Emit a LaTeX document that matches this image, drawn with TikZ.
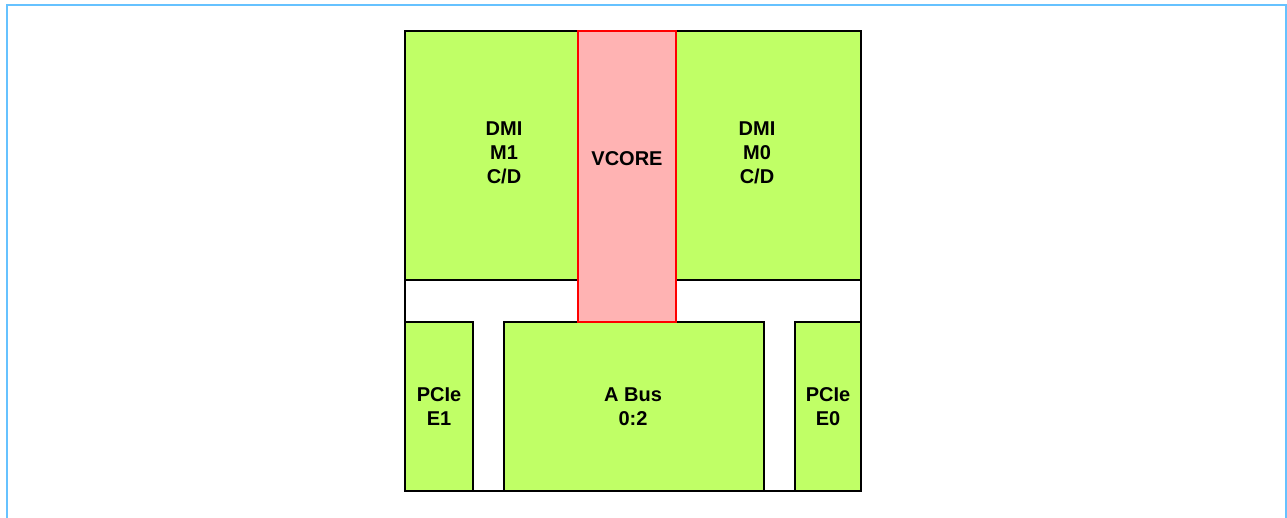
\documentclass[tikz,border=0pt]{standalone}
\usepackage{fontspec}
\setmainfont{Liberation Sans}
\definecolor{blockgreen}{HTML}{C0FF66}
\definecolor{corepink}{HTML}{FFB3B3}
\definecolor{framered}{HTML}{FF0000}
\definecolor{pageblue}{HTML}{66C2FF}
\begin{document}
\begin{tikzpicture}[x=1pt,y=-1pt,
  block/.style={draw=black,line width=1.5pt,fill=blockgreen,inner sep=0pt,outer sep=0pt,anchor=north west},
  coreblock/.style={draw=framered,line width=1.5pt,fill=corepink,inner sep=0pt,outer sep=0pt,anchor=north west},
  lbl/.style={font=\fontsize{20}{24}\selectfont\bfseries,align=center,inner sep=0pt}]
\useasboundingbox (0,0) rectangle (1287,518);
\draw[draw=pageblue,line width=2pt] (6.5,5) rectangle (1286,540);
\node[draw=black,line width=1.5pt,fill=white,inner sep=0pt,outer sep=0pt,anchor=north west,minimum width=456pt,minimum height=460pt] (frame) at (405,31) {};
\node[block,minimum width=173pt,minimum height=249pt] (dmiA) at (405,31) {};
\node[block,minimum width=185pt,minimum height=249pt] (dmiB) at (676,31) {};
\node[block,minimum width=68pt,minimum height=169pt] (pcieA) at (405,322) {};
\node[block,minimum width=260pt,minimum height=169pt] (abus) at (504,322) {};
\node[block,minimum width=66pt,minimum height=169pt] (pcieB) at (795,322) {};
\node[coreblock,minimum width=98pt,minimum height=291pt] (vcore) at (578,31) {};
\node[lbl] (tdmiA) at (504,153) {DMI\\M1\\C/D};
\node[lbl] (tdmiB) at (757,153) {DMI\\M0\\C/D};
\node[lbl] (tvcore) at (627,159) {VCORE};
\node[lbl] (tpcieA) at (439,407) {PCIe\\E1};
\node[lbl] (tabus) at (633,407) {A Bus\\0:2};
\node[lbl] (tpcieB) at (828,407) {PCIe\\E0};
\end{tikzpicture}
\end{document}
